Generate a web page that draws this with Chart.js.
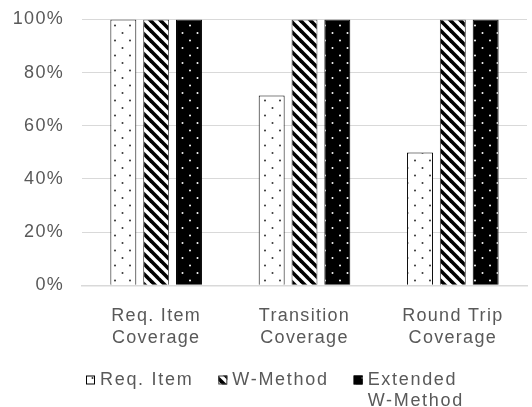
<!DOCTYPE html>
<html>
<head>
<meta charset="utf-8">
<script src="https://cdn.jsdelivr.net/npm/chart.js@4/dist/chart.umd.min.js"></script>
<style>
  html, body { margin: 0; padding: 0; background: #ffffff; }
  #wrap { width: 532px; height: 407px; }
</style>
</head>
<body>
<div id="wrap"><canvas id="chart" width="532" height="407"></canvas></div>
<script>
// Coverage per test-generation method, in percent
const categories = [['Req. Item', 'Coverage'], ['Transition', 'Coverage'], ['Round Trip', 'Coverage']];
const seriesNames = [['Req. Item'], ['W-Method'], ['Extended', 'W-Method']];
const reqItem = [100, 71.4, 50];
const wMethod = [100, 100, 100];
const extendedWMethod = [100, 100, 100];
const yTicks = ['0%', '20%', '40%', '60%', '80%', '100%'];

const TEXT = '#595959';
const GRID = '#d9d9d9';
const FONT = "'Liberation Sans', Arial, sans-serif";
const FONT_SIZE = 18;
const LETTER_SPACING = '1.3px';
const LEGEND_SPACING = '1.7px';

// Staggered dot texture (dots on a light or dark ground)
function dotPattern(ground, dot) {
  const c = document.createElement('canvas');
  c.width = 15; c.height = 15;
  const g = c.getContext('2d');
  g.fillStyle = ground;
  g.fillRect(0, 0, 15, 15);
  g.fillStyle = dot;
  g.beginPath(); g.arc(2.5, 3, 1, 0, Math.PI * 2); g.fill();
  g.beginPath(); g.arc(10, 10.5, 1, 0, Math.PI * 2); g.fill();
  return g.createPattern(c, 'repeat');
}

// Wide downward diagonal stripes
function stripePattern() {
  const s = 10;
  const c = document.createElement('canvas');
  c.width = s; c.height = s;
  const g = c.getContext('2d');
  g.fillStyle = '#ffffff';
  g.fillRect(0, 0, s, s);
  g.strokeStyle = '#000000';
  g.lineWidth = 3.6;
  g.lineCap = 'square';
  for (const o of [-s, 0, s]) {
    g.beginPath();
    g.moveTo(o, 0);
    g.lineTo(o + s, s);
    g.stroke();
  }
  return g.createPattern(c, 'repeat');
}

// Slightly widened lettering for all chart text
const spacing = {
  id: 'letterSpacing',
  beforeUpdate(chart) { chart.ctx.letterSpacing = LETTER_SPACING; },
  beforeDraw(chart) { chart.ctx.letterSpacing = LETTER_SPACING; }
};

// Legend row under the axis; the last entry wraps onto a second line
const seriesLegend = {
  id: 'seriesLegend',
  afterDraw(chart) {
    const g = chart.ctx;
    const box = 9, gap = 5, itemGap = 25, lineH = 21;
    const y0 = chart.height - 27;
    g.save();
    g.letterSpacing = LEGEND_SPACING;
    g.font = FONT_SIZE + 'px ' + FONT;
    g.textBaseline = 'middle';
    g.textAlign = 'left';
    const items = chart.data.datasets.map((ds, i) => {
      const lines = seriesNames[i];
      const w = Math.max(...lines.map(t => g.measureText(t).width));
      return { ds, lines, w: box + gap + w };
    });
    const total = items.reduce((s, it) => s + it.w, 0) + itemGap * (items.length - 1);
    let x = Math.round(chart.width / 2 - total / 2) + 9;
    items.forEach(it => {
      g.fillStyle = it.ds.backgroundColor;
      g.fillRect(x, y0 - box / 2, box, box);
      g.strokeStyle = it.ds.borderColor;
      g.lineWidth = 1;
      g.strokeRect(x + 0.5, y0 - box / 2 + 0.5, box - 1, box - 1);
      g.fillStyle = TEXT;
      it.lines.forEach((t, k) => g.fillText(t, x + box + gap, y0 + k * lineH));
      x += it.w + itemGap;
    });
    g.restore();
  }
};

const canvas = document.getElementById('chart');
const ctx = canvas.getContext('2d');

new Chart(ctx, {
  type: 'bar',
  data: {
    labels: categories,
    datasets: [
      {
        label: seriesNames[0].join(' '),
        data: reqItem,
        backgroundColor: dotPattern('#ffffff', '#333333'),
        borderColor: '#000000',
        borderWidth: 1
      },
      {
        label: seriesNames[1].join(' '),
        data: wMethod,
        backgroundColor: stripePattern(),
        borderColor: '#3a3a3a',
        borderWidth: 1
      },
      {
        label: seriesNames[2].join(' '),
        data: extendedWMethod,
        backgroundColor: dotPattern('#000000', '#ffffff'),
        borderColor: '#000000',
        borderWidth: 1
      }
    ]
  },
  options: {
    responsive: false,
    animation: false,
    devicePixelRatio: 1,
    layout: { padding: { top: 19.5, right: 5, left: 0, bottom: 38.5 } },
    datasets: {
      bar: { categoryPercentage: 0.664, barPercentage: 0.79 }
    },
    scales: {
      x: {
        grid: { display: false, drawTicks: false },
        border: { display: true, color: GRID, width: 1.5 },
        ticks: {
          color: TEXT,
          padding: 20,
          font: { family: FONT, size: FONT_SIZE, lineHeight: 1.2 },
          maxRotation: 0,
          autoSkip: false
        }
      },
      y: {
        min: 0,
        max: 100,
        grid: { color: GRID, lineWidth: 1, drawTicks: false },
        border: { display: false },
        afterFit(scale) {
          scale.width = 82;
          scale.paddingTop = 0;
          scale.paddingBottom = 0;
        },
        ticks: {
          stepSize: 20,
          color: TEXT,
          padding: 18,
          font: { family: FONT, size: FONT_SIZE, lineHeight: 1.2 },
          callback: (v) => yTicks[Math.round(v / 20)]
        }
      }
    },
    plugins: {
      tooltip: { enabled: false },
      legend: { display: false }
    }
  },
  plugins: [spacing, seriesLegend]
});
</script>
</body>
</html>
